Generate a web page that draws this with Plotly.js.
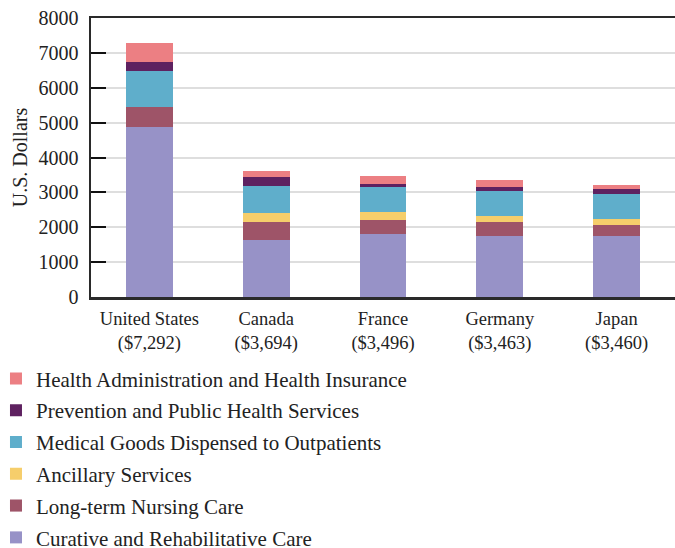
<!DOCTYPE html>
<html>
<head>
<meta charset="utf-8">
<script src="https://cdn.plot.ly/plotly-3.0.1.min.js"></script>
<style>html,body{margin:0;padding:0;background:#fff;}#chart{width:675px;height:548px;}</style>
</head>
<body>
<div id="chart"></div>
<script>
var countries = ["United States<br>($7,292)", "Canada<br>($3,694)", "France<br>($3,496)", "Germany<br>($3,463)", "Japan<br>($3,460)"];
var curative   = [4880, 1624, 1796, 1739, 1739];
var longTerm   = [560, 517, 402, 402, 316];
var ancillary  = [0, 258, 230, 172, 172];
var medGoods   = [1040, 776, 727, 719, 718];
var prevention = [260, 259, 72, 135, 144];
var admin      = [552, 172, 230, 189, 115];
var seriesNames = ["Curative and Rehabilitative Care", "Long-term Nursing Care", "Ancillary Services", "Medical Goods Dispensed to Outpatients", "Prevention and Public Health Services", "Health Administration and Health Insurance"];
var seriesColors = ["#9792c7", "#9e5468", "#f6ce6b", "#5faecb", "#5e2160", "#ec7f83"];
var seriesValues = [curative, longTerm, ancillary, medGoods, prevention, admin];

var FONT = "'Liberation Serif', 'Times New Roman', serif";
var traces = seriesValues.map(function(v, i){
  return {type:'bar', x:countries, y:v, name:seriesNames[i], legendgroup:'g'+i, legendrank:10 - i,
    marker:{color:seriesColors[i], line:{width:0}}, hoverinfo:'y+name'};
});
var layout = {
  width:675, height:548,
  margin:{l:91, r:0, t:18, b:250.5, autoexpand:false},
  barmode:'stack', bargap:0.6,
  paper_bgcolor:'#fff', plot_bgcolor:'#fff',
  font:{family:FONT, color:'#222', size:19},
  showlegend:true,
  legend:{traceorder:'grouped', tracegroupgap:1.5, xref:'paper', yref:'paper',
    x:-0.1627, y:-0.2195, xanchor:'left', yanchor:'top', font:{size:21, family:FONT, color:'#222'},
    bgcolor:'rgba(0,0,0,0)'},
  xaxis:{type:'category', range:[-0.5,4.5], showline:true, mirror:true, linecolor:'#2a2a2a', linewidth:2.5,
    ticks:'', showgrid:false, zeroline:false, tickfont:{size:18.5}, ticklabelstandoff:3, tickangle:0,
    automargin:false, fixedrange:true},
  yaxis:{range:[0,8000], dtick:1000, tick0:0, showline:true, mirror:false, linecolor:'#2a2a2a', linewidth:2.5,
    ticks:'inside', ticklen:15, tickwidth:2, tickcolor:'#111',
    showgrid:true, gridcolor:'#dedede', gridwidth:2, zeroline:false,
    tickfont:{size:20}, ticklabelstandoff:6, automargin:false,
    title:{text:'U.S. Dollars', font:{size:20}, standoff:6}, fixedrange:true}
};
Plotly.newPlot('chart', traces, layout, {displayModeBar:false, staticPlot:true});
</script>
</body>
</html>
